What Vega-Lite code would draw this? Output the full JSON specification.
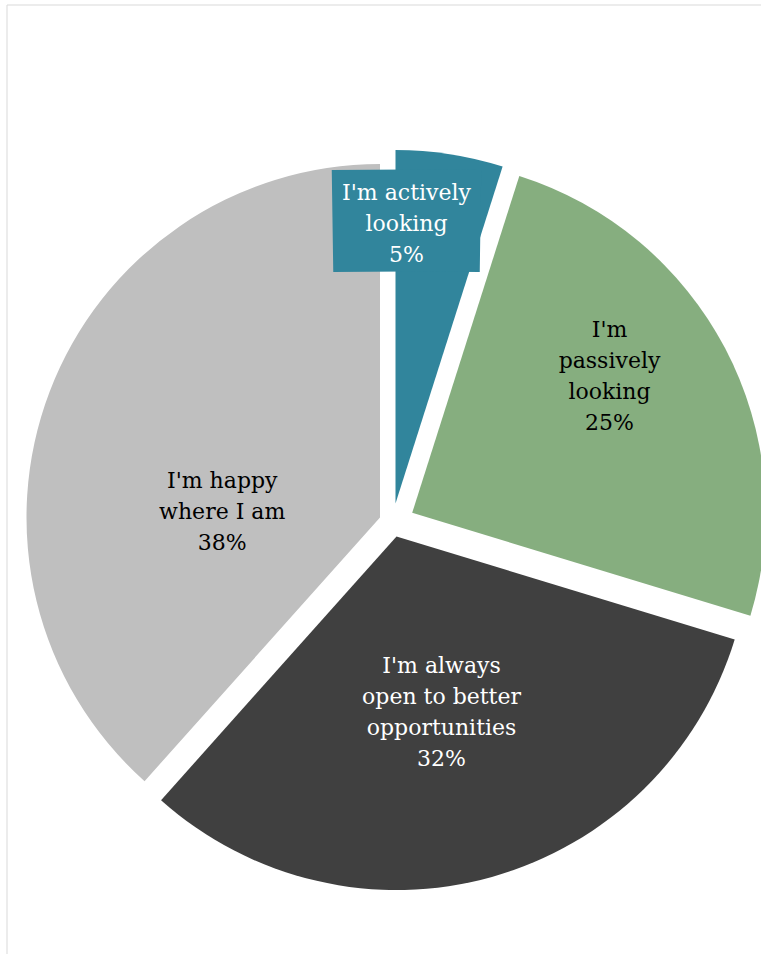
{
  "$schema": "https://vega.github.io/schema/vega-lite/v6.json",
  "width": 756,
  "height": 951,
  "autosize": {"type": "none"},
  "padding": {"left": 6.5, "top": 4.5, "right": -1.5, "bottom": -1.5},
  "background": "white",
  "view": {"stroke": "#d9d9d9", "strokeWidth": 1},
  "config": {
    "view": {"stroke": "#d9d9d9", "strokeWidth": 1},
    "style": {"view": {"stroke": "#d9d9d9", "strokeWidth": 1}}
  },
  "data": {
    "values": [
      {"category": "I'm actively looking", "rank": 1, "value": 4.9, "lines": ["I'm actively", "looking", "5%"]},
      {"category": "I'm passively looking", "rank": 2, "value": 24.8, "lines": ["I'm", "passively", "looking", "25%"]},
      {"category": "I'm always open to better opportunities", "rank": 3, "value": 31.9, "lines": ["I'm always", "open to better", "opportunities", "32%"]},
      {"category": "I'm happy where I am", "rank": 4, "value": 38.4, "lines": ["I'm happy", "where I am", "38%"]}
    ]
  },
  "layer": [
    {
      "mark": {
        "type": "arc",
        "radius": 353.5,
        "xOffset": {"expr": "datum.rank == 1 ? 11 : datum.rank == 2 ? 27.7 : datum.rank == 3 ? 12 : -4.5"},
        "yOffset": {"expr": "datum.rank == 1 ? 23.5 : datum.rank == 2 ? 32.8 : datum.rank == 3 ? 56.5 : 37.5"}
      },
      "encoding": {
        "theta": {"field": "value", "type": "quantitative", "stack": true},
        "color": {
          "field": "category",
          "type": "nominal",
          "scale": {
            "domain": ["I'm actively looking", "I'm passively looking", "I'm always open to better opportunities", "I'm happy where I am"],
            "range": ["#31859C", "#86AE7F", "#404040", "#BFBFBF"]
          },
          "legend": null
        },
        "order": {"field": "rank", "type": "quantitative"}
      }
    },
    {
      "transform": [{"filter": "datum.rank == 1"}],
      "mark": {
        "type": "arc",
        "theta": -0.0148,
        "theta2": 0.0148,
        "radius": 5051,
        "radius2": 4949,
        "color": "#31859C",
        "xOffset": 22,
        "yOffset": 4740.5
      },
      "encoding": {}
    },
    {
      "mark": {
        "type": "text",
        "font": "DejaVu Serif",
        "fontSize": 22,
        "lineHeight": 31,
        "align": "center",
        "baseline": "middle",
        "radius": {"expr": "datum.rank == 1 ? 308.6 : datum.rank == 2 ? 259.7 : datum.rank == 3 ? 136.8 : 160.4"},
        "xOffset": {"expr": "datum.rank == 1 ? 11 : datum.rank == 2 ? 27.7 : datum.rank == 3 ? 12 : -4.5"},
        "yOffset": {"expr": "datum.rank == 1 ? 23.5 : datum.rank == 2 ? 32.8 : datum.rank == 3 ? 56.5 : 37.5"},
        "dx": {"expr": "datum.rank == 1 ? -36.3 : datum.rank == 2 ? -32.6 : datum.rank == 3 ? 8.1 : -7.9"},
        "dy": {"expr": "datum.rank == 1 ? -5.6 : datum.rank == 2 ? -62 : datum.rank == 3 ? -2.2 : 20.7"}
      },
      "encoding": {
        "theta": {"field": "value", "type": "quantitative", "stack": true},
        "detail": {"field": "category", "type": "nominal"},
        "order": {"field": "rank", "type": "quantitative"},
        "text": {"field": "lines"},
        "color": {"condition": {"test": "datum.rank == 1 || datum.rank == 3", "value": "#ffffff"}, "value": "#000000"}
      }
    }
  ]
}
